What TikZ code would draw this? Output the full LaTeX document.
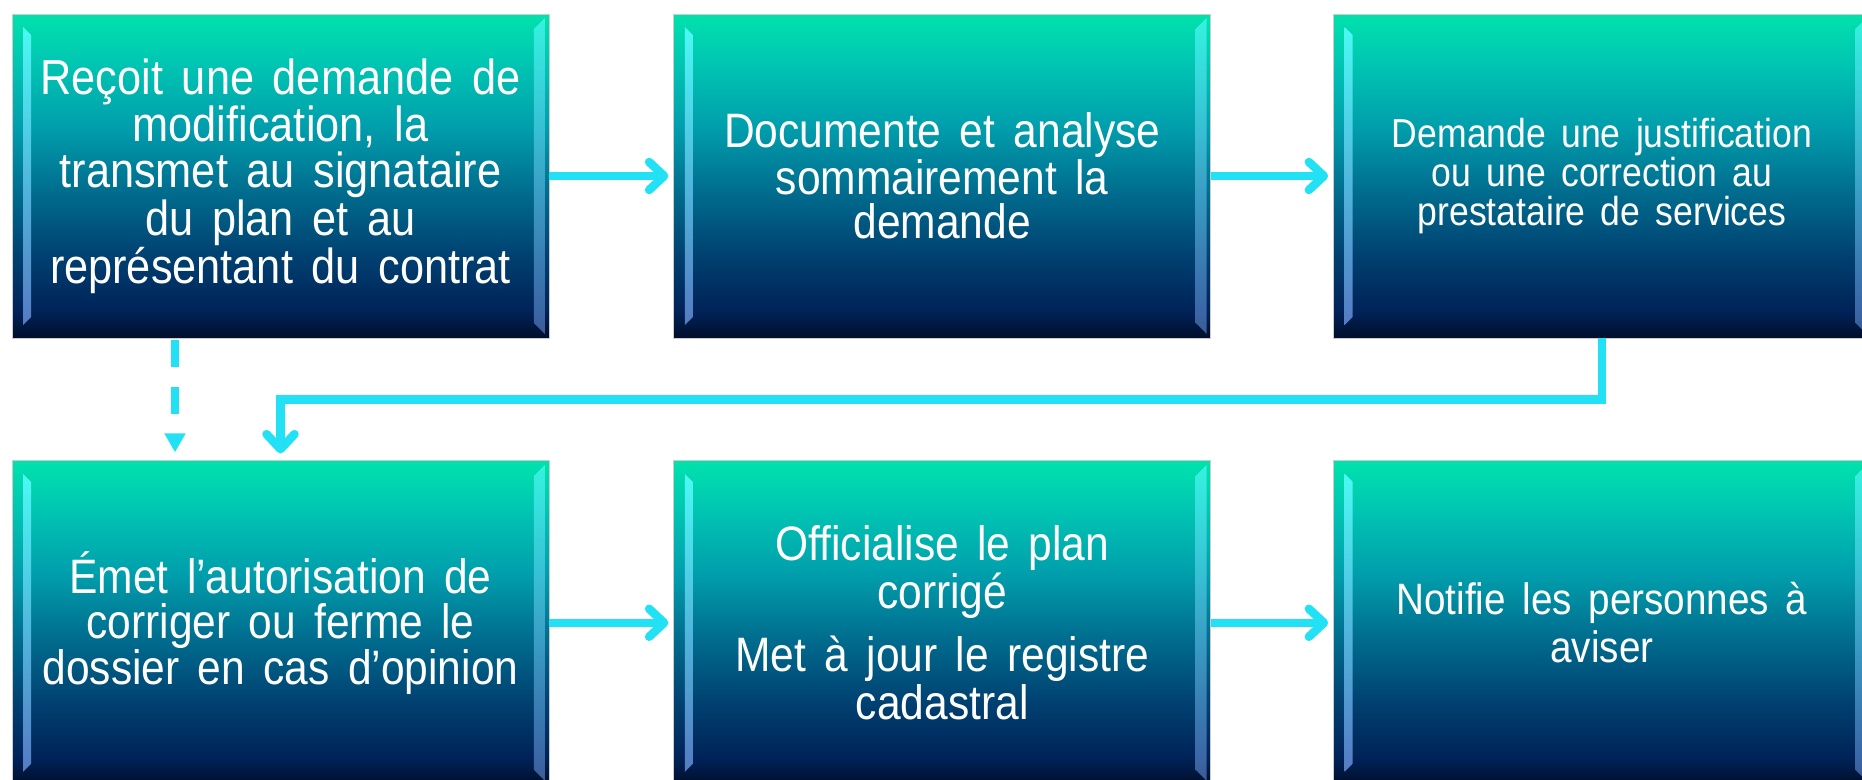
\documentclass[tikz,border=0pt]{standalone}
\usepackage{fontspec}
\setmainfont{Liberation Sans}
\newfontfamily\boxfont{Liberation Sans}[FakeStretch=0.88]
\usetikzlibrary{positioning,calc,arrows.meta}

\definecolor{bxgreen}{RGB}{0,226,172}
\definecolor{bxaqua}{RGB}{0,198,178}
\definecolor{bxteal}{RGB}{0,158,172}
\definecolor{bxsea}{RGB}{0,108,142}
\definecolor{bxblue}{RGB}{0,64,112}
\definecolor{bxnavy}{RGB}{0,34,88}
\definecolor{bxbottom}{RGB}{0,14,42}
\definecolor{bevlight}{RGB}{90,255,255}
\definecolor{bevdark}{RGB}{100,140,215}
\definecolor{flowcyan}{RGB}{35,225,245}

\pgfdeclareverticalshading{boxshade}{100bp}{color(0bp)=(bxbottom); color(25bp)=(bxbottom);
  color(29bp)=(bxnavy); color(37.5bp)=(bxblue); color(47.5bp)=(bxsea);
  color(57.5bp)=(bxteal); color(67.5bp)=(bxaqua); color(75bp)=(bxgreen); color(100bp)=(bxgreen)}

% box font: size and baseline skip
\newcommand{\boxtext}[2]{\boxfont\fontsize{#1}{#2}\selectfont\spaceskip=0.38em}

\tikzset{
  stepbox/.style={shade, shading=boxshade, draw=gray!40, line width=0.5pt,
    minimum width=10.74cm, minimum height=6.48cm, inner sep=0pt,
    align=center, text=white, font=\boxtext{28}{26},
    path picture={
      \coordinate (bnw) at (path picture bounding box.north west);
      \coordinate (bse) at (path picture bounding box.south east);
      % bevel on the left
      \shade[top color=bevlight, bottom color=bevdark, opacity=0.85]
        ($(bnw)+(11,-13)$) -- ($(bnw)+(19,-21)$) -- ($(bnw |- bse)+(19,21)$)
        -- ($(bnw |- bse)+(11,13)$) -- cycle;
      % bevel on the right
      \shade[top color=bevlight, bottom color=bevdark, opacity=0.6]
        ($(bse |- bnw)+(-4,-4)$) -- ($(bse |- bnw)+(-15,-15)$) -- ($(bse)+(-15,15)$)
        -- ($(bse)+(-4,4)$) -- cycle;
    }},
  flowline/.style={draw=flowcyan, line width=0.17cm},
  flowarrow/.style={flowline, -{Straight Barb[length=0.3cm,width=0.56cm,round]}, shorten >=0.1cm},
}

\begin{document}
\begin{tikzpicture}[x=0.02cm, y=0.02cm]
  \useasboundingbox (0,0) rectangle (1862,780);

  % Top row
  \node[stepbox] (recoit) at (280.5,604)
    {Reçoit une demande de\\ modification, la\\ transmet au signataire\\ du plan et au\\ représentant du contrat};
  \node[stepbox, right=2.48cm of recoit, font=\boxtext{27.5}{25.3}] (documente)
    {Documente et analyse\\ sommairement la\\ demande};
  \node[stepbox, right=2.44cm of documente, font=\boxtext{23}{22}] (justif)
    {Demande une justification\\ ou une correction au\\ prestataire de services};

  % Bottom row
  \node[stepbox, below=2.44cm of recoit, font=\boxtext{27.5}{26}] (emet)
    {Émet l’autorisation de\\ corriger ou ferme le\\ dossier en cas d’opinion};
  \node[stepbox, right=2.48cm of emet, font=\boxtext{27.5}{27.6}] (officialise)
    {Officialise le plan\\ corrigé\\[8pt] Met à jour le registre\\ cadastral};
  \node[stepbox, right=2.44cm of officialise, font=\boxtext{25}{27.6}] (notifie)
    {Notifie les personnes à\\ aviser};

  % Arrows
  \draw[flowarrow] (recoit.east) -- (documente.west);
  \draw[flowarrow] (documente.east) -- (justif.west);
  \draw[flowarrow] (emet.east) -- (officialise.west);
  \draw[flowarrow] (officialise.east) -- (notifie.west);
  \draw[flowarrow, shorten >=0.14cm] (justif.south) -- ++(0,-61) -| (emet.north);
  \draw[flowline, dash pattern=on 0.54cm off 0.4cm, -{Triangle[length=0.38cm,width=0.4cm]},
    shorten >=0.16cm, shorten <=0.04cm]
    ($(recoit.south)+(-105.5,0)$) -- ($(emet.north)+(-105.5,0)$);
\end{tikzpicture}
\end{document}
